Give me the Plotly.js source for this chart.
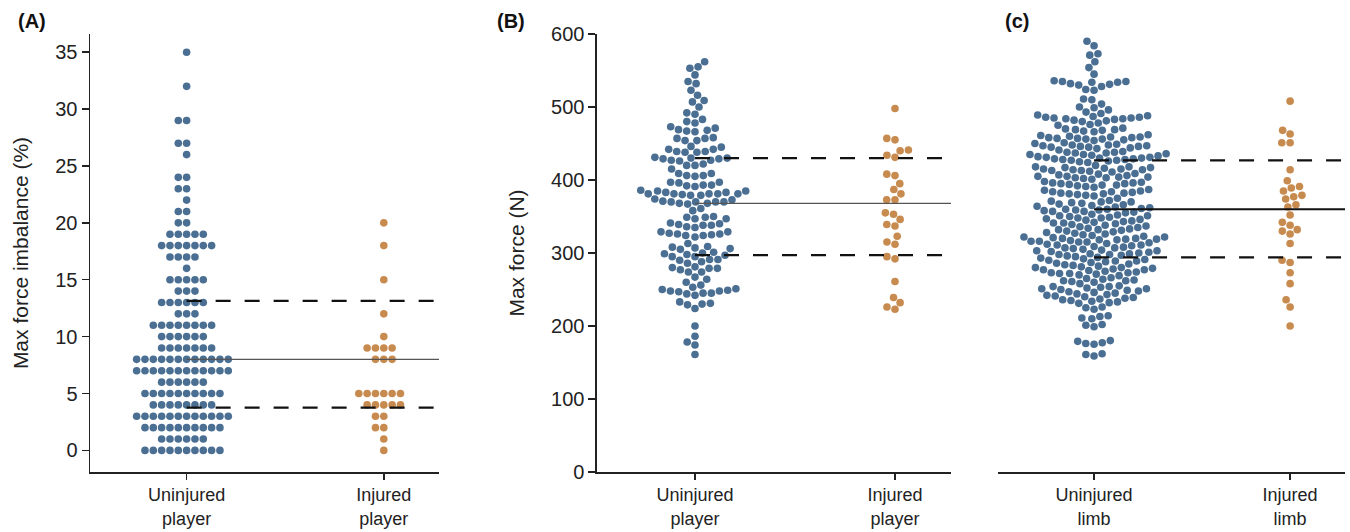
<!DOCTYPE html>
<html><head><meta charset="utf-8">
<script src="https://cdn.plot.ly/plotly-3.0.1.min.js"></script>
<style>html,body{margin:0;padding:0;background:#fff}#chart{width:1350px;height:532px}</style>
</head><body><div id="chart"></div><script>
// ---------------- data ----------------
const groupsPlayer = ["Uninjured<br>player", "Injured<br>player"];
const groupsLimb = ["Uninjured<br>limb", "Injured<br>limb"];

// Panel A: max force imbalance (%) – integer levels and number of dots at each level
const imbalanceLevels = [0,1,2,3,4,5,6,7,8,9,10,11,12,13,14,15,16,17,18,19,20,21,22,23,24,25,26,27,28,29,30,31,32,33,34,35];
const imbalanceUninjuredCounts = [10,6,10,12,8,10,6,12,12,7,6,8,3,6,3,5,1,4,7,5,2,2,1,2,2,0,1,2,0,2,0,0,1,0,0,1];
const imbalanceInjuredCounts   = [1,1,2,2,5,6,0,0,3,4,1,0,1,0,0,1,0,0,1,0,1,0,0,0,0,0,0,0,0,0,0,0,0,0,0,0];
const imbalanceRefLines = [3.75, 8.0, 13.15];   // lower dashed, solid, upper dashed

// Panel B: max force (N), players
const forceUninjured = [
562,553,555,544,532,535,523,516,507,509,500,490,492,
478,480,483,467,468,469,471,473,466,
454,458,457,454,457,
442,439,438,438,445,439,442,446,
430,429,427,422,427,429,430,431,426,
420,415,420,
409,406,405,406,409,
397,393,392,391,393,396,397,
385,383,381,381,381,379,379,380,381,381,383,385,386,
373,370,370,370,367,361,368,368,370,371,374,
358,
349,347,347,349,350,
341,338,335,336,338,339,340,
329,326,325,324,322,324,326,327,329,
308,305,313,309,301,306,307,
297,295,291,288,286,290,291,295,298,299,300,
280,279,277,274,274,279,281,
267,264,260,256,
249,248,247,245,242,244,245,248,250,251,253,
231,230,224,229,233,
200,186,178,174,161];
const forceInjured = [498,457,455,440,441,434,431,408,406,395,387,381,373,373,355,353,346,339,337,323,315,312,295,292,261,239,232,226,223];
const forceRefLines = [297, 368, 430];

// Panel C: max force (N), limbs
const limbUninjured = [
590,584,571,573,562,554,545,
536,532,530,535,535,528,531,534,534,
524,523,511,510,
500,496,499,504,
487,486,485,484,481,491,488,485,483,484,482,486,489,493,
480,476,478,475,
470,469,467,468,466,469,471,
460,459,457,456,458,455,457,461,459,454,456,458,462,
449,447,446,448,445,444,447,450,446,443,448,451,445,
438,437,435,436,439,434,437,441,433,438,435,
431,430,429,428,426,427,429,430,425,428,427,424,431,432,
418,417,416,414,413,415,417,420,412,414,418,415,413,411,
407,406,404,403,405,408,402,404,409,405,403,401,
397,396,394,393,395,398,392,390,396,395,393,391,
384,383,382,380,381,385,379,382,387,381,378,384,386,
371,370,368,367,369,372,366,375,370,365,
362,361,360,358,359,363,357,360,355,359,356,364,357,
352,351,350,348,349,353,347,345,351,346,348,
343,342,340,339,341,344,338,336,341,337,
334,333,331,330,332,335,329,327,332,328,
325,324,323,321,322,326,320,318,322,319,
317,316,315,314,315,319,313,316,311,312,318,320,
310,309,308,306,307,311,305,303,307,304,
302,301,300,298,299,303,297,295,299,296,298,
293,292,290,289,291,294,288,286,289,287,
284,283,281,280,282,285,279,277,280,278,
276,275,274,272,273,277,271,269,273,270,272,
265,264,263,261,262,266,260,258,262,
254,253,252,250,251,255,249,247,251,248,254,
245,244,242,241,243,246,240,239,
237,236,235,233,234,238,232,231,
226,223,225,214,210,213,211,202,199,201,
179,176,177,175,180,162,159,161];
const limbInjured = [508,468,463,451,451,414,399,391,385,389,379,374,377,363,366,352,342,338,330,326,332,313,290,287,273,258,236,226,200];
const limbRefLines = [294, 360, 427];

// ---------------- layout constants ----------------
const W = 1350, H = 532;
const xRange = [-0.49, 1.28];
const yDom = [0.11278, 0.93609];
const domA = [0.06667, 0.32519], domB = [0.44222, 0.70444], domC = [0.73926, 0.99630];
const rangeA = [-1.9, 36.6], rangeB = [0, 600];
const BLUE = "#4a6f93", TAN = "#c88b4f";
const DOT = 8.33;   // swarm spacing, px
const FONT = "Liberation Sans, Arial, sans-serif";

function expand(levels, counts) {
  const out = [];
  levels.forEach((v, i) => { for (let k = 0; k < counts[i]; k++) out.push(v); });
  return out;
}

// seaborn-like beeswarm: returns x offsets (data units)
function swarm(values, pxPerY, pxPerX) {
  const d = DOT, d2 = d * d;
  const idx = values.map((v, i) => i).sort((a, b) => values[a] - values[b] || a - b);
  const placed = [], out = new Array(values.length);
  for (const i of idx) {
    const y = values[i] * pxPerY;
    const nb = placed.filter(p => Math.abs(p.y - y) < d);
    const cands = [0];
    nb.forEach(p => cands.push(p.x - Math.sqrt(d2 - (y - p.y) ** 2)));
    nb.forEach(p => cands.push(p.x + Math.sqrt(d2 - (y - p.y) ** 2)));
    const order = cands.map((c, k) => [Math.abs(c), k, c]).sort((a, b) => a[0] - b[0] || a[1] - b[1]);
    let chosen = 0;
    for (const o of order) {
      const c = o[2];
      if (nb.every(p => (p.x - c) ** 2 + (p.y - y) ** 2 >= d2 * (1 - 1e-6))) { chosen = c; break; }
    }
    placed.push({ x: chosen, y });
    out[i] = chosen / pxPerX;
  }
  return out;
}

function pxPer(dom, range, size) { return (dom[1] - dom[0]) * size / (range[1] - range[0]); }

const traces = [];
function addPanel(xa, ya, dom, yr, uninj, inj, lines, solidStyle) {
  const py = (yDom[1] - yDom[0]) * H / (yr[1] - yr[0]);
  const px = pxPer(dom, xRange, W);
  [[uninj, 0, BLUE], [inj, 1, TAN]].forEach(([vals, g, col]) => {
    const off = swarm(vals, py, px);
    traces.push({ type: "scatter", mode: "markers", xaxis: xa, yaxis: ya,
      x: vals.map((v, i) => g + off[i]), y: vals,
      marker: { color: col, size: 7.6, line: { width: 0 } }, hoverinfo: "y" });
  });
  lines.forEach((v, k) => {
    const solid = k === 1;
    traces.push({ type: "scatter", mode: "lines", xaxis: xa, yaxis: ya,
      x: [0, xRange[1]], y: [v, v], hoverinfo: "skip",
      line: solid ? solidStyle : { color: "#111", width: 2.2, dash: "15px,14px" } });
  });
}

addPanel("x", "y", domA, rangeA, expand(imbalanceLevels, imbalanceUninjuredCounts),
  expand(imbalanceLevels, imbalanceInjuredCounts), imbalanceRefLines, { color: "#555", width: 1.1 });
addPanel("x2", "y2", domB, rangeB, forceUninjured, forceInjured, forceRefLines, { color: "#555", width: 1.1 });
addPanel("x3", "y3", domC, rangeB, limbUninjured, limbInjured, limbRefLines, { color: "#111", width: 2 });

const axCommon = { showgrid: false, zeroline: false, showline: true, linecolor: "#222", linewidth: 1.5,
  ticks: "outside", ticklen: 6, tickwidth: 1.5, tickcolor: "#222",
  tickfont: { family: FONT, size: 18, color: "#222" } };
function xAx(dom, anchor, labels) {
  return Object.assign({}, axCommon, { domain: dom, anchor, range: xRange, tickvals: [0, 1], ticktext: labels,
    fixedrange: true, ticklabelstandoff: 0 });
}
function yAx(anchor, range, vals, title) {
  return Object.assign({}, axCommon, { domain: yDom, anchor, range, tickvals: vals, ticklen: 7,
    tickfont: { family: FONT, size: 20, color: "#222" },
    title: { text: title, font: { family: FONT, size: 21, color: "#222" }, standoff: 21 } });
}

const layout = {
  width: W, height: H, margin: { l: 0, r: 0, t: 0, b: 0 },
  paper_bgcolor: "#fff", plot_bgcolor: "rgba(0,0,0,0)", showlegend: false,
  xaxis: xAx(domA, "y", groupsPlayer),
  xaxis2: xAx(domB, "y2", groupsPlayer),
  xaxis3: xAx(domC, "y3", groupsLimb),
  yaxis: yAx("x", rangeA, [0, 5, 10, 15, 20, 25, 30, 35], "Max force imbalance (%)"),
  yaxis2: yAx("x2", rangeB, [0, 100, 200, 300, 400, 500, 600], "Max force (N)"),
  yaxis3: { domain: yDom, anchor: "x3", range: rangeB, showline: false, showgrid: false, zeroline: false,
    showticklabels: false, ticks: "" },
  annotations: [["(A)", 32], ["(B)", 511], ["(c)", 1017]].map(([t, x]) => ({
    text: "<b>" + t + "</b>", xref: "paper", yref: "paper", x: x / W, y: 1 - 21 / H,
    xanchor: "center", yanchor: "middle", showarrow: false,
    font: { family: FONT, size: 20, color: "#111" } }))
};

Plotly.newPlot("chart", traces, layout, { displayModeBar: false, staticPlot: true });
</script></body></html>
